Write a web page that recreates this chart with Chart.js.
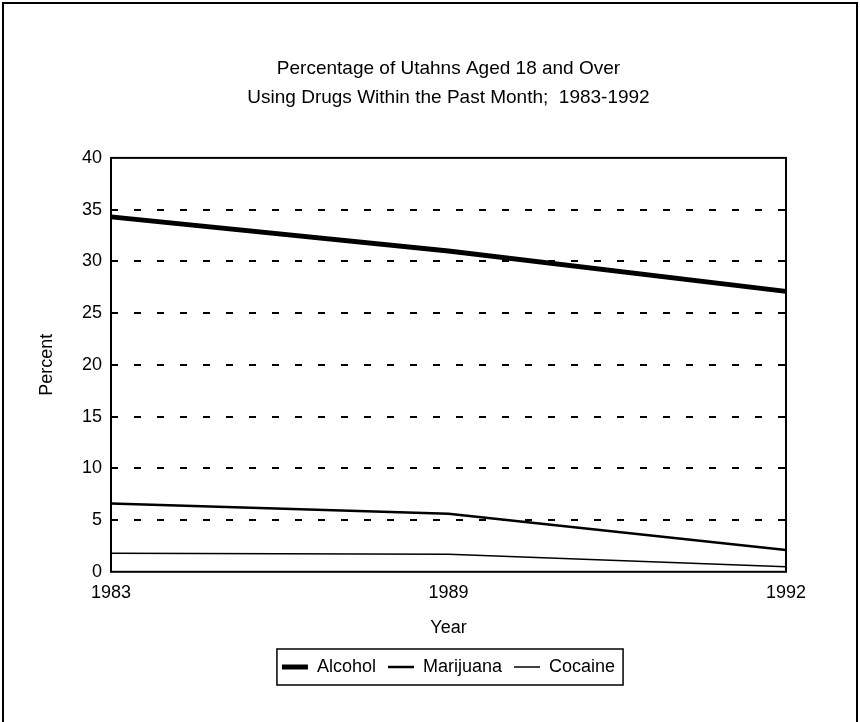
<!DOCTYPE html>
<html>
<head>
<meta charset="utf-8">
<title>Utah drug use 1983-1992</title>
<script src="https://cdn.jsdelivr.net/npm/chart.js@4.4.1/dist/chart.umd.min.js"></script>
<style>
    html, body { margin: 0; padding: 0; background: #fff; }
    #wrap { position: relative; width: 860px; height: 722px; overflow: hidden; }
    #frame { position: absolute; left: 2px; top: 2px; width: 852px; height: 740px; border: 2px solid #000; }
    #chart { position: absolute; left: 0; top: 0; }
</style>
</head>
<body>
<div id="wrap">
    <div id="frame"></div>
    <canvas id="chart" width="860" height="722"></canvas>
</div>
<script>
var years = ['1983', '1989', '1992'];
var alcohol = [34.3, 31.0, 27.1];
var marijuana = [6.6, 5.6, 2.1];
var cocaine = [1.8, 1.7, 0.5];
var seriesNames = ['Alcohol', 'Marijuana', 'Cocaine'];
var titleLines = ['Percentage of Utahns Aged 18 and Over', 'Using Drugs Within the Past Month;  1983-1992'];
var yMin = 0, yMax = 40, yStep = 5;

Chart.defaults.font.family = "'Liberation Sans', Arial, sans-serif";
Chart.defaults.color = '#000';

// solid box round the plot area (grid at 0 and 40 is hidden)
var framePlugin = {
    id: 'plotFrame',
    afterDatasetsDraw: function (chart) {
        var a = chart.chartArea;
        var ctx = chart.ctx;
        ctx.save();
        ctx.strokeStyle = '#000';
        ctx.lineWidth = 2;
        ctx.strokeRect(a.left, a.top, a.right - a.left, a.bottom - a.top);
        ctx.restore();
    }
};

// border round the legend items
var legendBoxPlugin = {
    id: 'legendBox',
    afterDraw: function (chart) {
        var boxes = chart.legend && chart.legend.legendHitBoxes;
        if (!boxes || !boxes.length) return;
        var first = boxes[0];
        var last = boxes[boxes.length - 1];
        var ctx = chart.ctx;
        ctx.save();
        ctx.strokeStyle = '#000';
        ctx.lineWidth = 1.5;
        ctx.strokeRect(first.left - 5, first.top - 9, last.left + last.width - first.left + 13, first.height + 18);
        ctx.restore();
    }
};

var makeLine = function (label, values, width) {
    return {
        label: label,
        data: values,
        borderColor: '#000',
        backgroundColor: '#000',
        borderWidth: width,
        pointRadius: 0,
        pointHoverRadius: 0,
        tension: 0,
        fill: false
    };
};

new Chart(document.getElementById('chart'), {
    type: 'line',
    data: {
        labels: years,
        datasets: [
            makeLine(seriesNames[0], alcohol, 5),
            makeLine(seriesNames[1], marijuana, 2.5),
            makeLine(seriesNames[2], cocaine, 1.5)
        ]
    },
    options: {
        responsive: false,
        devicePixelRatio: 1,
        animation: false,
        layout: {
            padding: { left: 36, right: 74, top: 0, bottom: 36 }
        },
        plugins: {
            title: {
                display: true,
                fullSize: false,
                text: titleLines,
                color: '#000',
                font: { size: 19, weight: 'normal', lineHeight: 1.55 },
                padding: { top: 54, bottom: 45 }
            },
            legend: {
                position: 'bottom',
                fullSize: false,
                labels: {
                    color: '#000',
                    font: { size: 18 },
                    usePointStyle: true,
                    pointStyle: 'line',
                    pointStyleWidth: 26,
                    padding: 12
                }
            },
            tooltip: { enabled: false }
        },
        scales: {
            x: {
                type: 'category',
                offset: false,
                grid: { display: false },
                border: { display: false },
                ticks: { font: { size: 18 }, padding: 2, maxRotation: 0, color: '#000' },
                title: {
                    display: true,
                    text: 'Year',
                    color: '#000',
                    font: { size: 18 },
                    padding: { top: 12, bottom: 7 }
                }
            },
            y: {
                min: yMin,
                max: yMax,
                afterFit: function (scale) {
                    scale.width = 75;
                },
                ticks: { stepSize: yStep, font: { size: 18 }, padding: 9, color: '#000' },
                grid: {
                    drawTicks: false,
                    lineWidth: 2,
                    color: function (ctx) {
                        if (ctx.tick && (ctx.tick.value === yMin || ctx.tick.value === yMax)) return 'rgba(0,0,0,0)';
                        return '#000';
                    }
                },
                border: { display: false, dash: [7, 16] },
                title: {
                    display: true,
                    text: 'Percent',
                    color: '#000',
                    font: { size: 18 },
                    padding: 0
                }
            }
        }
    },
    plugins: [framePlugin, legendBoxPlugin]
});
</script>
</body>
</html>
